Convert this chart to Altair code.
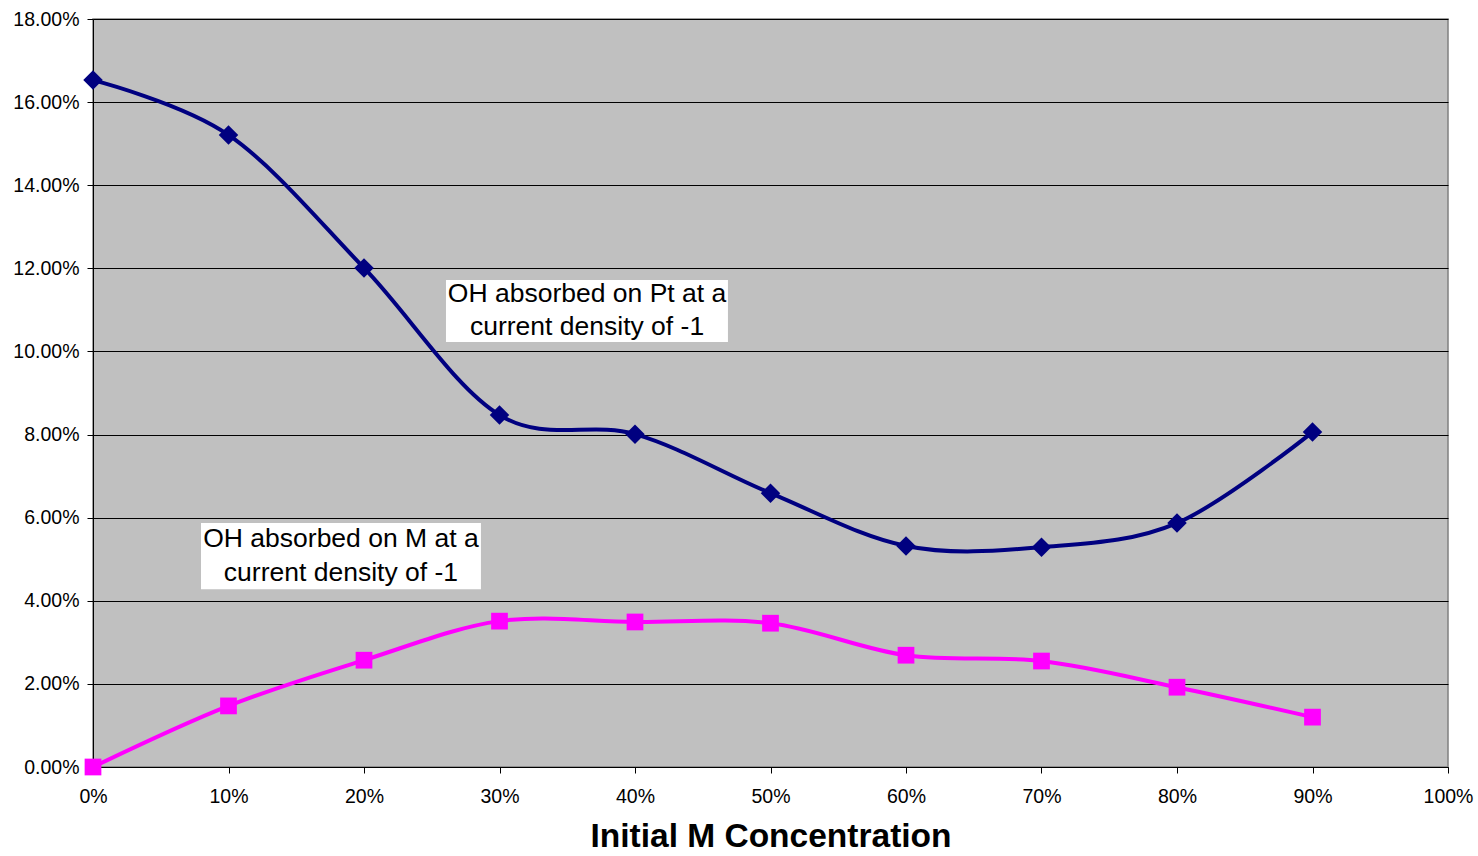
import altair as alt
import pandas as pd

# Data
conc = [0.0, 0.1, 0.2, 0.3, 0.4, 0.5, 0.6, 0.7, 0.8, 0.9]
pt_oh = [0.1653, 0.1521, 0.1201, 0.0847, 0.0801, 0.0659, 0.0532, 0.0529, 0.0587, 0.0806]
m_oh = [0.0, 0.0147, 0.0257, 0.0351, 0.0349, 0.0346, 0.0269, 0.0255, 0.0192, 0.0120]
series_names = ["Pt", "M"]
series_colors = ["#000080", "#FF00FF"]

x_ticks = [i / 10 for i in range(11)]
y_ticks = [i / 50 for i in range(10)]

rows = []
for c, v in zip(conc, pt_oh):
    rows.append({"conc": c, "val": v, "series": "Pt"})
for c, v in zip(conc, m_oh):
    rows.append({"conc": c, "val": v, "series": "M"})
df = pd.DataFrame(rows)

# annotation boxes (data coordinates)
box_x0 = [0.2605, 0.0797]
box_x1 = [0.4686, 0.2863]
box_y0 = [0.1023, 0.0428]
box_y1 = [0.1172, 0.0587]
boxes_df = pd.DataFrame({"x0": box_x0, "x1": box_x1, "y0": box_y0, "y1": box_y1})

line_labels = ["OH absorbed on Pt at a", "current density of -1",
               "OH absorbed on M at a", "current density of -1"]
line_x = [0.3646, 0.3646, 0.1830, 0.1830]
line_y = [0.1139, 0.1060, 0.0548, 0.0466]
text_df = pd.DataFrame({"label": line_labels, "x": line_x, "y": line_y})

xscale = alt.Scale(domain=[0, 1], nice=False, zero=False)
yscale = alt.Scale(domain=[0, 0.18], nice=False)
color = alt.Color("series:N", scale=alt.Scale(domain=series_names, range=series_colors), legend=None)

xaxis = alt.Axis(values=x_ticks, format=".0%", title="Initial M Concentration", grid=False,
                 labelFontSize=19.5, labelFont="Liberation Sans", labelColor="#000000",
                 labelFlush=False, labelOverlap=False,
                 tickSize=6, tickColor="#000000", domainColor="#000000", labelPadding=14,
                 titleFontSize=33.5, titleFont="Liberation Sans", titleFontWeight="bold",
                 titleColor="#000000", titlePadding=15)
yaxis = alt.Axis(values=y_ticks, format=".2%", title=None, grid=True, gridColor="#000000",
                 gridWidth=1, labelFontSize=19.5, labelFont="Liberation Sans", labelColor="#000000",
                 labelOverlap=False,
                 tickSize=6, tickColor="#000000", domainColor="#000000", labelPadding=8)

base = alt.Chart(df)

lines = base.mark_line(interpolate="cardinal", strokeWidth=4).encode(
    x=alt.X("conc:Q", scale=xscale, axis=xaxis),
    y=alt.Y("val:Q", scale=yscale, axis=yaxis),
    color=color,
    detail="series:N",
)

pt_pts = base.transform_filter(alt.datum.series == "Pt").mark_point(
    shape="diamond", filled=True, size=380, opacity=1).encode(
    x=alt.X("conc:Q", scale=xscale), y=alt.Y("val:Q", scale=yscale), color=color)

m_pts = base.transform_filter(alt.datum.series == "M").mark_point(
    shape="square", filled=True, size=280, opacity=1).encode(
    x=alt.X("conc:Q", scale=xscale), y=alt.Y("val:Q", scale=yscale), color=color)

boxes = alt.Chart(boxes_df).mark_rect(color="#FFFFFF").encode(
    x=alt.X("x0:Q", scale=xscale), x2="x1:Q",
    y=alt.Y("y0:Q", scale=yscale), y2="y1:Q")

texts = alt.Chart(text_df).mark_text(fontSize=26.5, font="Liberation Sans", color="#000000",
                                     align="center", baseline="middle").encode(
    x=alt.X("x:Q", scale=xscale), y=alt.Y("y:Q", scale=yscale), text="label:N")

chart = alt.layer(lines, pt_pts, m_pts, boxes, texts).properties(
    width=1355, height=748,
    autosize=alt.AutoSizeParams(type="none"),
    padding={"left": 93, "top": 19, "right": 30, "bottom": 89},
    background="#FFFFFF",
).configure_view(fill="#C0C0C0", stroke="#808080", strokeWidth=1.5)

chart.save("out.html", embed_options={"renderer": "svg", "actions": False})
